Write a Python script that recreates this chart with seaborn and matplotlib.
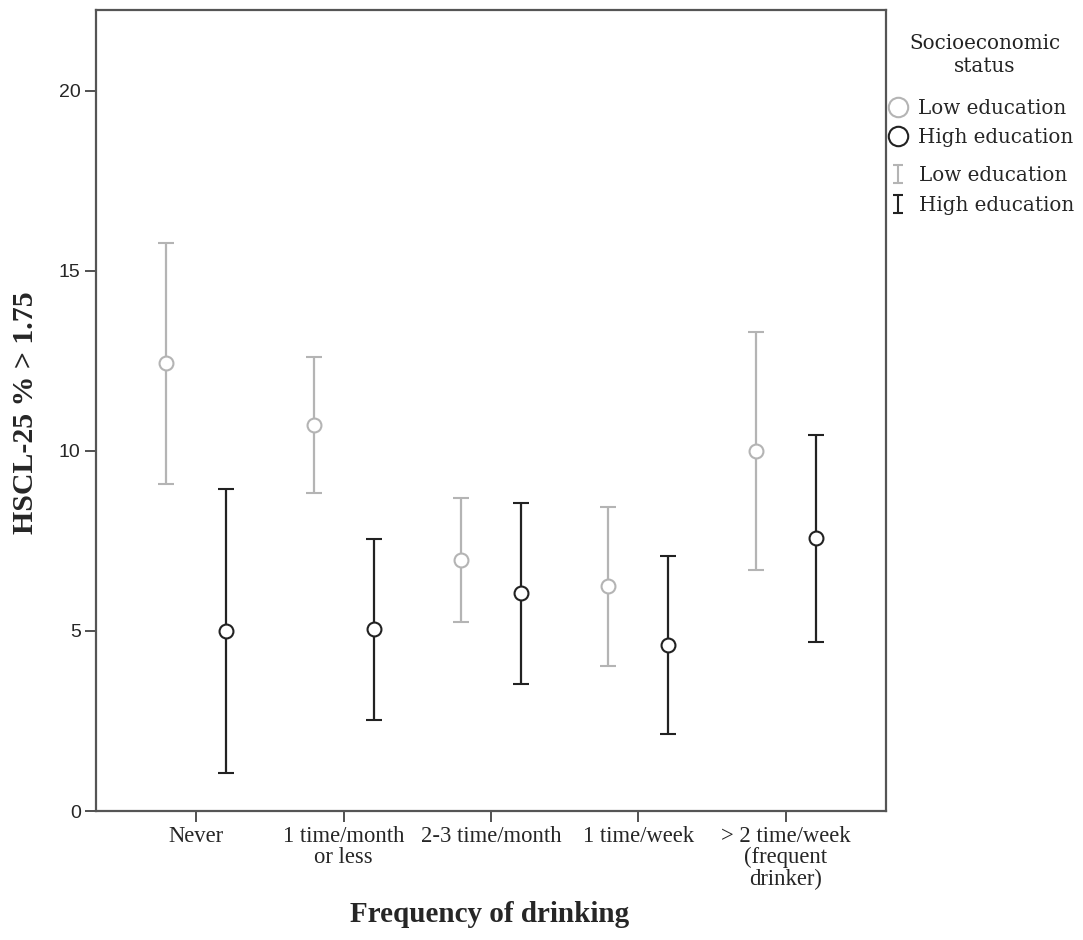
import numpy as np
import matplotlib
matplotlib.use("Agg")
import matplotlib.pyplot as plt
from matplotlib.lines import Line2D
from matplotlib.path import Path
import seaborn as sns

# ---- data ----
categories = ["Never", "1 time/month\nor less", "2-3 time/month", "1 time/week",
              "> 2 time/week\n(frequent\ndrinker)"]
groups = ["Low education", "High education"]
low_mean = [12.44, 10.72, 6.98, 6.25, 10.00]
low_lo = [9.09, 8.84, 5.25, 4.03, 6.69]
low_hi = [15.78, 12.60, 8.69, 8.44, 13.29]
high_mean = [5.00, 5.05, 6.06, 4.62, 7.57]
high_lo = [1.05, 2.54, 3.52, 2.15, 4.69]
high_hi = [8.94, 7.56, 8.56, 7.09, 10.44]
y_ticks = [0, 5, 10, 15, 20]

sns.set_theme(style="white")
plt.rcParams['font.family'] = ['Liberation Serif', 'DejaVu Serif']

fig = plt.figure(figsize=(10.83, 9.40), dpi=100)
ax = fig.add_axes([96 / 1083, 1 - 811 / 940, (886 - 96) / 1083, (811 - 10) / 940])

colors = {"Low education": "#b4b4b4", "High education": "#222222"}
offsets = {"Low education": -0.204, "High education": 0.204}
series = {
    "Low education": (low_mean, low_lo, low_hi),
    "High education": (high_mean, high_lo, high_hi),
}
x = np.arange(len(categories))
for g in groups:
    m, lo, hi = (np.array(v) for v in series[g])
    ax.errorbar(x + offsets[g], m, yerr=[m - lo, hi - m], fmt="o",
                color=colors[g], mfc="white", mec=colors[g], ms=10, mew=1.5,
                elinewidth=1.6, capsize=5.5, capthick=1.6, zorder=3)

ax.set_xlim(-0.68, 4.68)
ax.set_ylim(0, 22.24)
ax.set_xticks(x)
ax.set_xticklabels(categories, fontsize=16.3, linespacing=1.0)
ax.set_yticks(y_ticks)
ax.set_yticklabels([str(t) for t in y_ticks], fontsize=14, family="Liberation Sans")
ax.tick_params(axis="both", direction="out", length=8, width=1.2, color="#333333",
               bottom=True, left=True)
ax.tick_params(axis="x", pad=3)
ax.tick_params(axis="y", pad=3)
for s in ax.spines.values():
    s.set_color("#555555")
    s.set_linewidth(1.6)

fig.text(490 / 1083, 1 - 915 / 940, "Frequency of drinking", ha="center", va="center",
         fontsize=21, fontweight="bold")
fig.text(26 / 1083, 1 - 413 / 940, "HSCL-25 % > 1.75", ha="center", va="center",
         rotation=90, fontsize=21.5, fontweight="bold")

# ---- legend ----
fig.text(985 / 1083, 1 - 55 / 940, "Socioeconomic\nstatus", ha="center", va="center",
         multialignment="center", family="DejaVu Serif", fontsize=14.3, linespacing=1.3,
         color="#222222")

circ_handles = [Line2D([], [], ls="none", marker="o", ms=14, mfc="none",
                       mec=colors[g], mew=1.5) for g in groups]
ibar = Path([(-0.5, 1), (0.5, 1), (0, 1), (0, -1), (-0.5, -1), (0.5, -1)],
            [Path.MOVETO, Path.LINETO, Path.MOVETO, Path.LINETO, Path.MOVETO, Path.LINETO])
bar_handles = [Line2D([], [], ls="none", marker=ibar, ms=13, mfc="none",
                      mec=colors[g], mew=1.5) for g in groups]

lp = dict(family="DejaVu Serif", size=14.3)
leg1 = fig.legend(circ_handles, groups, loc="upper left",
                  bbox_to_anchor=(889 / 1083, 1 - 99 / 940), frameon=False,
                  prop=lp, handlelength=0.9, handletextpad=0.55, labelspacing=0.5,
                  borderaxespad=0, borderpad=0)
leg2 = fig.legend(bar_handles, groups, loc="upper left",
                  bbox_to_anchor=(889 / 1083, 1 - 166 / 940), frameon=False,
                  prop=lp, handlelength=0.9, handletextpad=0.6, labelspacing=0.55,
                  borderaxespad=0, borderpad=0)

fig.savefig("out.png", dpi=100)
